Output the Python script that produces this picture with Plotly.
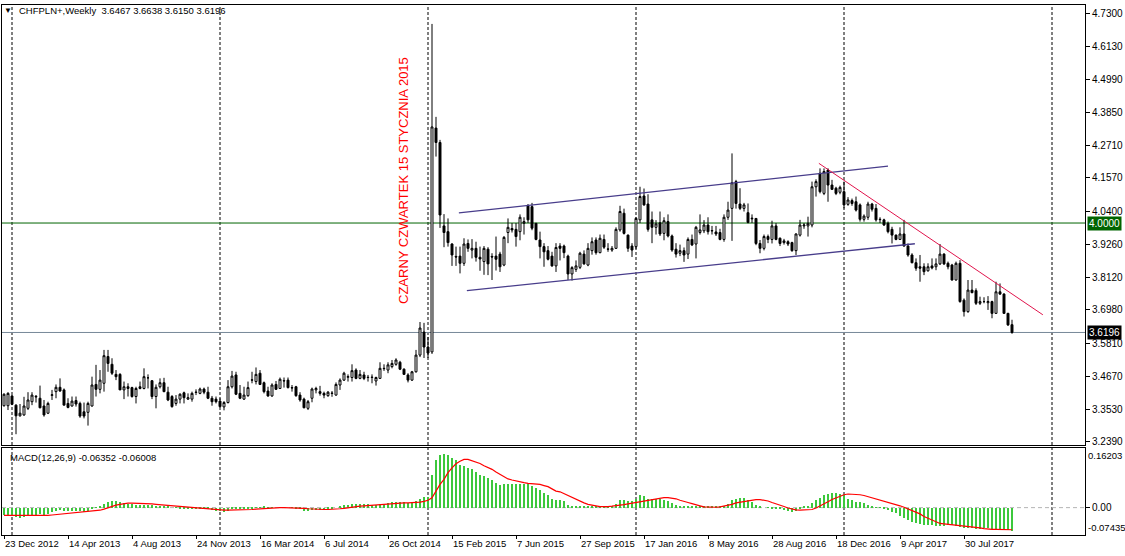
import pandas as pd
import plotly.graph_objects as go

# ---------------- data ----------------
first_week = "2012-12-23"
n_weeks = 253
weeks = pd.date_range(first_week, periods=n_weeks, freq="7D")

opens = [
    3.365, 3.365, 3.399, 3.367, 3.330, 3.333, 3.356, 3.379, 3.398, 3.391,
    3.364, 3.339, 3.401, 3.414, 3.429, 3.420, 3.373, 3.364, 3.383, 3.373,
    3.344, 3.342, 3.364, 3.439, 3.422, 3.443, 3.536, 3.509, 3.474, 3.474,
    3.420, 3.431, 3.428, 3.397, 3.431, 3.425, 3.462, 3.452, 3.397, 3.431,
    3.445, 3.412, 3.397, 3.373, 3.388, 3.410, 3.388, 3.388, 3.411, 3.408,
    3.423, 3.412, 3.391, 3.388, 3.381, 3.361, 3.376, 3.431, 3.472, 3.408,
    3.388, 3.400, 3.455, 3.449, 3.478, 3.445, 3.416, 3.399, 3.439, 3.425,
    3.451, 3.454, 3.428, 3.431, 3.402, 3.388, 3.356, 3.391, 3.420, 3.414,
    3.408, 3.400, 3.409, 3.402, 3.437, 3.454, 3.464, 3.463, 3.489, 3.460,
    3.472, 3.464, 3.463, 3.451, 3.460, 3.495, 3.489, 3.501, 3.509, 3.516,
    3.492, 3.472, 3.454, 3.483, 3.541, 3.621, 3.569, 3.552, 4.330, 4.280,
    3.990, 3.970, 3.927, 3.884, 3.885, 3.860, 3.929, 3.906, 3.912, 3.881,
    3.866, 3.909, 3.884, 3.885, 3.892, 3.854, 3.967, 3.981, 3.978, 3.970,
    3.999, 4.059, 4.057, 3.999, 3.941, 3.918, 3.904, 3.885, 3.851, 3.920,
    3.920, 3.885, 3.823, 3.839, 3.846, 3.892, 3.854, 3.904, 3.941, 3.897,
    3.943, 3.910, 3.906, 3.912, 3.976, 4.034, 3.958, 3.920, 3.918, 4.011,
    4.094, 4.066, 4.011, 3.985, 4.001, 3.964, 4.005, 3.955, 3.909, 3.895,
    3.904, 3.892, 3.943, 3.927, 3.967, 3.973, 3.993, 3.974, 3.969, 3.967,
    3.943, 4.020, 4.051, 4.144, 4.066, 4.051, 4.036, 4.017, 4.016, 3.929,
    3.912, 3.953, 3.943, 3.990, 3.947, 3.932, 3.935, 3.932, 3.904, 3.958,
    3.990, 3.990, 3.993, 4.126, 4.173, 4.103, 4.184, 4.132, 4.121, 4.107,
    4.109, 4.065, 4.078, 4.074, 4.063, 4.013, 4.020, 4.066, 4.051, 4.013,
    4.011, 3.999, 3.978, 3.958, 3.943, 3.962, 3.920, 3.889, 3.862, 3.848,
    3.848, 3.834, 3.851, 3.848, 3.858, 3.892, 3.860, 3.854, 3.802, 3.860,
    3.732, 3.692, 3.767, 3.765, 3.721, 3.727, 3.723, 3.727, 3.686, 3.761,
    3.753, 3.686, 3.6467,
]
highs = [
    3.408, 3.412, 3.402, 3.370, 3.371, 3.396, 3.412, 3.412, 3.402, 3.435,
    3.385, 3.379, 3.420, 3.439, 3.460, 3.425, 3.391, 3.397, 3.397, 3.379,
    3.376, 3.379, 3.466, 3.507, 3.489, 3.559, 3.559, 3.530, 3.489, 3.478,
    3.449, 3.443, 3.431, 3.431, 3.449, 3.495, 3.474, 3.454, 3.439, 3.460,
    3.462, 3.431, 3.402, 3.402, 3.408, 3.414, 3.408, 3.414, 3.422, 3.428,
    3.428, 3.431, 3.399, 3.397, 3.391, 3.381, 3.454, 3.486, 3.483, 3.437,
    3.431, 3.449, 3.483, 3.498, 3.489, 3.449, 3.431, 3.443, 3.451, 3.463,
    3.463, 3.463, 3.437, 3.434, 3.412, 3.393, 3.385, 3.428, 3.431, 3.434,
    3.414, 3.416, 3.416, 3.446, 3.460, 3.483, 3.474, 3.509, 3.495, 3.489,
    3.483, 3.472, 3.474, 3.466, 3.516, 3.509, 3.516, 3.524, 3.530, 3.521,
    3.495, 3.478, 3.486, 3.559, 3.656, 3.653, 3.604, 4.692, 4.369, 4.289,
    4.031, 4.016, 3.930, 3.918, 3.918, 3.947, 3.943, 3.944, 3.935, 3.918,
    3.920, 3.916, 3.895, 3.953, 3.900, 3.955, 4.016, 4.000, 4.000, 4.030,
    4.020, 4.066, 4.070, 4.000, 3.970, 3.930, 3.920, 3.900, 3.930, 3.930,
    3.925, 3.890, 3.850, 3.870, 3.900, 3.905, 3.930, 3.950, 3.950, 3.960,
    3.960, 3.930, 3.920, 3.985, 4.060, 4.050, 3.960, 3.930, 4.020, 4.126,
    4.120, 4.100, 4.040, 4.010, 4.040, 4.020, 4.030, 3.960, 3.930, 3.925,
    3.915, 3.950, 3.960, 3.990, 4.030, 4.010, 4.020, 3.990, 3.990, 3.980,
    4.030, 4.074, 4.242, 4.150, 4.121, 4.070, 4.068, 4.030, 4.017, 3.941,
    3.960, 3.960, 4.008, 4.000, 3.950, 3.945, 3.940, 3.935, 3.964, 4.011,
    4.000, 4.022, 4.144, 4.152, 4.190, 4.190, 4.190, 4.150, 4.126, 4.130,
    4.144, 4.090, 4.085, 4.092, 4.068, 4.030, 4.074, 4.070, 4.066, 4.020,
    4.015, 4.005, 3.987, 3.960, 3.985, 4.011, 3.929, 3.895, 3.877, 3.889,
    3.860, 3.860, 3.877, 3.877, 3.927, 3.895, 3.866, 3.858, 3.866, 3.871,
    3.738, 3.802, 3.802, 3.773, 3.744, 3.742, 3.746, 3.730, 3.796, 3.790,
    3.756, 3.688, 3.6638,
]
lows = [
    3.362, 3.350, 3.367, 3.266, 3.327, 3.330, 3.350, 3.367, 3.376, 3.356,
    3.327, 3.336, 3.385, 3.391, 3.414, 3.367, 3.356, 3.362, 3.362, 3.323,
    3.321, 3.296, 3.362, 3.397, 3.408, 3.414, 3.483, 3.472, 3.454, 3.420,
    3.388, 3.397, 3.393, 3.373, 3.422, 3.422, 3.425, 3.388, 3.356, 3.425,
    3.412, 3.381, 3.358, 3.365, 3.373, 3.373, 3.385, 3.379, 3.402, 3.405,
    3.405, 3.388, 3.365, 3.373, 3.359, 3.349, 3.373, 3.425, 3.402, 3.388,
    3.385, 3.396, 3.443, 3.439, 3.437, 3.408, 3.396, 3.396, 3.420, 3.423,
    3.428, 3.425, 3.414, 3.396, 3.379, 3.356, 3.350, 3.377, 3.408, 3.400,
    3.391, 3.396, 3.396, 3.400, 3.420, 3.451, 3.449, 3.449, 3.457, 3.457,
    3.454, 3.449, 3.443, 3.435, 3.458, 3.486, 3.478, 3.495, 3.504, 3.489,
    3.472, 3.446, 3.451, 3.480, 3.534, 3.531, 3.531, 3.545, 4.231, 3.983,
    3.916, 3.918, 3.851, 3.851, 3.825, 3.851, 3.900, 3.877, 3.866, 3.834,
    3.820, 3.819, 3.802, 3.835, 3.830, 3.850, 3.930, 3.967, 3.918, 3.940,
    3.960, 4.000, 3.975, 3.940, 3.877, 3.848, 3.870, 3.848, 3.830, 3.870,
    3.878, 3.802, 3.800, 3.830, 3.840, 3.855, 3.850, 3.890, 3.890, 3.895,
    3.910, 3.900, 3.900, 3.910, 3.970, 3.960, 3.900, 3.882, 3.910, 4.000,
    4.060, 3.970, 3.930, 3.960, 3.955, 3.940, 3.950, 3.900, 3.880, 3.885,
    3.865, 3.875, 3.920, 3.877, 3.960, 3.965, 3.960, 3.960, 3.955, 3.940,
    3.935, 4.011, 3.938, 4.050, 4.045, 4.040, 3.999, 4.000, 3.923, 3.895,
    3.905, 3.930, 3.929, 3.940, 3.920, 3.925, 3.920, 3.900, 3.889, 3.953,
    3.980, 3.953, 3.985, 4.092, 4.103, 4.097, 4.074, 4.115, 4.097, 4.100,
    4.051, 4.060, 4.060, 4.040, 4.005, 4.005, 4.011, 4.040, 4.005, 4.000,
    3.990, 3.964, 3.929, 3.940, 3.941, 3.918, 3.883, 3.860, 3.834, 3.796,
    3.819, 3.831, 3.839, 3.836, 3.854, 3.854, 3.839, 3.800, 3.800, 3.723,
    3.675, 3.688, 3.756, 3.715, 3.715, 3.721, 3.698, 3.669, 3.684, 3.750,
    3.684, 3.642, 3.6150,
]
closes = [
    3.405, 3.408, 3.370, 3.330, 3.339, 3.364, 3.385, 3.402, 3.396, 3.358,
    3.333, 3.373, 3.403, 3.429, 3.416, 3.367, 3.359, 3.381, 3.371, 3.329,
    3.329, 3.373, 3.437, 3.422, 3.454, 3.539, 3.512, 3.478, 3.466, 3.420,
    3.431, 3.425, 3.397, 3.425, 3.425, 3.466, 3.462, 3.397, 3.429, 3.445,
    3.414, 3.385, 3.362, 3.388, 3.405, 3.393, 3.393, 3.408, 3.412, 3.423,
    3.412, 3.391, 3.379, 3.379, 3.362, 3.376, 3.431, 3.468, 3.405, 3.391,
    3.402, 3.428, 3.454, 3.474, 3.439, 3.414, 3.399, 3.437, 3.422, 3.457,
    3.452, 3.428, 3.427, 3.400, 3.385, 3.358, 3.379, 3.423, 3.425, 3.408,
    3.402, 3.412, 3.408, 3.439, 3.454, 3.478, 3.466, 3.487, 3.460, 3.474,
    3.460, 3.463, 3.464, 3.463, 3.495, 3.494, 3.507, 3.512, 3.524, 3.492,
    3.474, 3.454, 3.483, 3.541, 3.635, 3.569, 3.548, 4.334, 4.280, 4.028,
    3.967, 3.932, 3.889, 3.882, 3.860, 3.927, 3.912, 3.912, 3.881, 3.875,
    3.912, 3.858, 3.882, 3.874, 3.848, 3.950, 3.985, 3.976, 3.953, 4.020,
    4.005, 4.011, 3.982, 3.943, 3.918, 3.900, 3.874, 3.851, 3.915, 3.912,
    3.897, 3.823, 3.845, 3.851, 3.895, 3.858, 3.912, 3.935, 3.897, 3.947,
    3.916, 3.909, 3.912, 3.978, 4.040, 3.964, 3.912, 3.906, 4.016, 4.092,
    4.063, 3.978, 3.985, 3.997, 3.962, 4.008, 3.955, 3.906, 3.892, 3.904,
    3.889, 3.943, 3.924, 3.985, 3.976, 3.993, 3.970, 3.973, 3.962, 3.943,
    4.020, 4.045, 4.140, 4.068, 4.051, 4.063, 4.002, 4.015, 3.929, 3.912,
    3.953, 3.943, 3.990, 3.943, 3.929, 3.938, 3.927, 3.904, 3.962, 3.993,
    3.993, 3.999, 4.126, 4.144, 4.109, 4.179, 4.132, 4.117, 4.103, 4.124,
    4.063, 4.080, 4.068, 4.045, 4.013, 4.024, 4.066, 4.048, 4.011, 4.012,
    3.993, 3.970, 3.958, 3.943, 3.962, 3.920, 3.889, 3.862, 3.843, 3.843,
    3.831, 3.848, 3.844, 3.858, 3.892, 3.858, 3.848, 3.802, 3.860, 3.727,
    3.692, 3.767, 3.758, 3.721, 3.727, 3.727, 3.727, 3.686, 3.761, 3.753,
    3.686, 3.646, 3.6196,
]

macd_main = [
    -0.020, -0.021, -0.022, -0.025, -0.027, -0.026, -0.024, -0.021, -0.019, -0.018,
    -0.019, -0.017, -0.013, -0.010, -0.007, -0.008, -0.009, -0.008, -0.008, -0.010,
    -0.011, -0.009, -0.003, 0.001, 0.004, 0.010, 0.015, 0.018, 0.018, 0.016,
    0.013, 0.011, 0.009, 0.008, 0.007, 0.008, 0.008, 0.006, 0.005, 0.005,
    0.004, 0.002, 0.000, -0.001, -0.002, -0.003, -0.004, -0.004, -0.004, -0.004,
    -0.004, -0.005, -0.007, -0.008, -0.010, -0.011, -0.008, -0.004, -0.004, -0.005,
    -0.005, -0.004, -0.002, 0.001, 0.001, 0.003, 0.001, 0.001, 0.000, 0.001,
    0.001, 0.000, -0.001, -0.003, -0.005, -0.008, -0.009, -0.007, -0.006, -0.006,
    -0.006, -0.004, -0.003, 0.000, 0.003, 0.006, 0.007, 0.009, 0.009, 0.009,
    0.009, 0.009, 0.008, 0.008, 0.010, 0.011, 0.013, 0.014, 0.016, 0.016,
    0.015, 0.013, 0.013, 0.017, 0.023, 0.028, 0.030, 0.090, 0.129, 0.144,
    0.146, 0.142, 0.135, 0.129, 0.117, 0.113, 0.108, 0.104, 0.097, 0.090,
    0.086, 0.081, 0.074, 0.068, 0.061, 0.063, 0.063, 0.065, 0.065, 0.063,
    0.065, 0.063, 0.059, 0.054, 0.047, 0.041, 0.034, 0.023, 0.020, 0.020,
    0.018, 0.006, 0.004, 0.003, 0.003, 0.003, 0.004, 0.004, 0.004, 0.005,
    0.005, 0.004, 0.004, 0.009, 0.020, 0.020, 0.018, 0.018, 0.024, 0.034,
    0.031, 0.024, 0.024, 0.024, 0.024, 0.022, 0.018, 0.013, 0.006, 0.004,
    0.002, 0.003, 0.003, 0.004, 0.003, 0.003, 0.003, 0.003, 0.002, 0.002,
    0.004, 0.009, 0.020, 0.024, 0.027, 0.027, 0.022, 0.015, 0.006, 0.002,
    0.000, -0.001, -0.002, -0.003, -0.005, -0.007, -0.009, -0.012, -0.009, -0.003,
    0.002, 0.005, 0.013, 0.022, 0.027, 0.034, 0.038, 0.040, 0.040, 0.038,
    0.034, 0.024, 0.020, 0.016, 0.014, 0.012, 0.008, 0.004, 0.001, -0.001,
    -0.003, -0.006, -0.011, -0.015, -0.022, -0.029, -0.034, -0.038, -0.043, -0.044,
    -0.048, -0.048, -0.048, -0.050, -0.051, -0.049, -0.048, -0.048, -0.051, -0.053,
    -0.056, -0.055, -0.056, -0.057, -0.057, -0.056, -0.055, -0.057, -0.057, -0.058,
    -0.060, -0.062, -0.06352,
]
macd_signal = [
    -0.021, -0.021, -0.022, -0.022, -0.023, -0.023, -0.023, -0.023, -0.023, -0.022,
    -0.022, -0.021, -0.020, -0.019, -0.017, -0.016, -0.015, -0.014, -0.013, -0.013,
    -0.012, -0.012, -0.011, -0.009, -0.007, -0.004, 0.000, 0.004, 0.007, 0.009,
    0.011, 0.012, 0.012, 0.012, 0.011, 0.011, 0.010, 0.010, 0.009, 0.008,
    0.007, 0.006, 0.005, 0.004, 0.003, 0.002, 0.001, 0.000, -0.001, -0.002,
    -0.002, -0.003, -0.004, -0.005, -0.006, -0.007, -0.007, -0.007, -0.006, -0.006,
    -0.006, -0.005, -0.005, -0.004, -0.003, -0.002, -0.001, -0.001, 0.000, 0.000,
    0.000, 0.000, 0.000, -0.001, -0.001, -0.002, -0.003, -0.004, -0.005, -0.005,
    -0.005, -0.005, -0.005, -0.004, -0.003, -0.002, 0.000, 0.001, 0.003, 0.004,
    0.005, 0.006, 0.006, 0.007, 0.007, 0.008, 0.009, 0.010, 0.011, 0.012,
    0.013, 0.013, 0.013, 0.014, 0.015, 0.017, 0.020, 0.027, 0.045, 0.063,
    0.077, 0.095, 0.108, 0.119, 0.126, 0.131, 0.131, 0.128, 0.124, 0.120,
    0.114, 0.110, 0.104, 0.097, 0.090, 0.084, 0.078, 0.075, 0.072, 0.069,
    0.068, 0.066, 0.065, 0.065, 0.063, 0.060, 0.057, 0.051, 0.045, 0.043,
    0.038, 0.033, 0.027, 0.022, 0.016, 0.013, 0.009, 0.006, 0.005, 0.003,
    0.002, 0.003, 0.004, 0.005, 0.006, 0.008, 0.010, 0.012, 0.014, 0.015,
    0.017, 0.020, 0.023, 0.024, 0.026, 0.027, 0.027, 0.026, 0.024, 0.020,
    0.016, 0.014, 0.011, 0.007, 0.005, 0.002, 0.001, 0.000, 0.001, 0.002,
    0.004, 0.006, 0.009, 0.013, 0.015, 0.018, 0.020, 0.022, 0.022, 0.022,
    0.021, 0.018, 0.014, 0.011, 0.006, 0.003, -0.001, -0.004, -0.006, -0.007,
    -0.007, -0.007, -0.005, -0.001, 0.004, 0.009, 0.016, 0.022, 0.027, 0.032,
    0.035, 0.037, 0.037, 0.036, 0.035, 0.033, 0.030, 0.027, 0.024, 0.021,
    0.018, 0.014, 0.011, 0.007, 0.005, 0.001, -0.003, -0.007, -0.012, -0.017,
    -0.024, -0.029, -0.034, -0.039, -0.043, -0.044, -0.045, -0.046, -0.047, -0.048,
    -0.049, -0.050, -0.052, -0.053, -0.055, -0.057, -0.059, -0.059, -0.059, -0.059,
    -0.059, -0.060, -0.06008,
]

price_ticks = [4.7300, 4.6130, 4.4990, 4.3850, 4.2710, 4.1570, 4.0400,
               3.9260, 3.8120, 3.6980, 3.5810, 3.4670, 3.3530, 3.2390]
date_labels = ["23 Dec 2012", "14 Apr 2013", "4 Aug 2013", "24 Nov 2013",
               "16 Mar 2014", "6 Jul 2014", "26 Oct 2014", "15 Feb 2015",
               "7 Jun 2015", "27 Sep 2015", "17 Jan 2016", "8 May 2016",
               "28 Aug 2016", "18 Dec 2016", "9 Apr 2017", "30 Jul 2017"]
year_grid = ["2013-01-06", "2014-01-05", "2015-01-04", "2016-01-03",
             "2017-01-01", "2017-12-31"]

channel_upper_x = ["2015-02-27", "2017-03-19"]
channel_upper_y = [4.035, 4.198]
channel_lower_x = ["2015-03-13", "2017-05-05"]
channel_lower_y = [3.765, 3.928]
resistance_x = ["2016-11-18", "2017-12-15"]
resistance_y = [4.2075, 3.681]
level_price = 4.0000
macd_max, macd_min = 0.16203, -0.07435

symbol_title = "CHFPLN+,Weekly"
event_text = "CZARNY CZWARTEK 15 STYCZNIA 2015"

# ---------------- layout geometry ----------------
W, H = 1125, 556
ML, MR, MT, MB = 2, 40, 5, 21
PW, PH = W - ML - MR, H - MT - MB


def px_x(px):
    return (px - ML) / PW


def px_y(py):
    return (H - MB - py) / PH


FONT = "Liberation Sans, Arial, sans-serif"
last_close = closes[-1]
start = pd.Timestamp(first_week)
x_range = [start - pd.Timedelta(days=3.5), start + pd.Timedelta(weeks=270.25)]

fig = go.Figure()

fig.add_trace(go.Candlestick(
    x=weeks, open=opens, high=highs, low=lows, close=closes,
    xaxis="x", yaxis="y", whiskerwidth=0,
    increasing=dict(line=dict(color="black", width=1), fillcolor="white"),
    decreasing=dict(line=dict(color="black", width=1), fillcolor="black"),
    hoverinfo="skip", showlegend=False))

for xs, ys, col, w in [(channel_upper_x, channel_upper_y, "#483D8B", 1.3),
                       (channel_lower_x, channel_lower_y, "#483D8B", 1.3),
                       (resistance_x, resistance_y, "#E0144C", 1.0)]:
    fig.add_trace(go.Scatter(x=xs, y=ys, mode="lines", xaxis="x", yaxis="y",
                             line=dict(color=col, width=w),
                             hoverinfo="skip", showlegend=False))

fig.add_trace(go.Bar(x=weeks, y=macd_main, xaxis="x2", yaxis="y2",
                     width=0.18 * 7 * 86400000,
                     marker=dict(color="#3CC83C", line=dict(width=0)),
                     hoverinfo="skip", showlegend=False))
fig.add_trace(go.Scatter(x=weeks, y=macd_signal, mode="lines", xaxis="x2", yaxis="y2",
                         line=dict(color="#FF0000", width=1.2),
                         hoverinfo="skip", showlegend=False))

shapes = []
for d in year_grid:
    shapes.append(dict(type="line", xref="x", yref="paper", x0=d, x1=d, y0=0, y1=1,
                       line=dict(color="black", width=1, dash="3px,2px"), layer="below"))
shapes.append(dict(type="line", xref="paper", yref="y", x0=0, x1=1,
                   y0=level_price, y1=level_price,
                   line=dict(color="#006400", width=1), layer="below"))
shapes.append(dict(type="line", xref="paper", yref="y", x0=0, x1=1,
                   y0=last_close, y1=last_close,
                   line=dict(color="#778899", width=1), layer="below"))
shapes.append(dict(type="line", xref="paper", yref="y2", x0=0, x1=1, y0=0, y1=0,
                   line=dict(color="#B4B4B4", width=1, dash="4px,3px"), layer="below"))

ohlc_text = " ".join(f"{v:.4f}" for v in (opens[-1], highs[-1], lows[-1], closes[-1]))
macd_text = f"MACD(12,26,9) {macd_main[-1]:.5f} {macd_signal[-1]:.5f}"

annotations = [
    dict(text="▼", xref="paper", yref="paper", x=px_x(8), y=px_y(11),
         xanchor="center", yanchor="middle", showarrow=False,
         font=dict(size=8, color="black", family=FONT)),
    dict(text=f"{symbol_title}  {ohlc_text}", xref="paper", yref="paper",
         x=px_x(17), y=px_y(11), xanchor="left", yanchor="middle", showarrow=False,
         font=dict(size=9.5, color="black", family=FONT)),
    dict(text=macd_text, xref="paper", yref="paper", x=px_x(8), y=px_y(457),
         xanchor="left", yanchor="middle", showarrow=False,
         font=dict(size=9.5, color="black", family=FONT)),
    dict(text=event_text, xref="paper", yref="paper", x=px_x(403), y=px_y(181),
         xanchor="center", yanchor="middle", textangle=-90, showarrow=False,
         font=dict(size=13, color="#FF0000", family=FONT)),
    dict(text=f"{level_price:.4f}", xref="paper", yref="y", x=px_x(1087), y=level_price,
         xanchor="left", yanchor="middle", showarrow=False, bgcolor="#006400",
         borderpad=1, font=dict(size=10, color="white", family=FONT)),
    dict(text=f"{last_close:.4f}", xref="paper", yref="y", x=px_x(1087), y=last_close,
         xanchor="left", yanchor="middle", showarrow=False, bgcolor="black",
         borderpad=1, font=dict(size=10, color="white", family=FONT)),
    dict(text=f"{macd_max:.5f}", xref="paper", yref="y2 domain", x=px_x(1086), y=1,
         xanchor="left", yanchor="top", showarrow=False,
         font=dict(size=9.5, color="black", family=FONT)),
    dict(text=f"{macd_min:.5f}", xref="paper", yref="y2 domain", x=px_x(1086), y=0,
         xanchor="left", yanchor="bottom", showarrow=False,
         font=dict(size=9.5, color="black", family=FONT)),
]

tick_dates = [pd.to_datetime(s, format="%d %b %Y").strftime("%Y-%m-%d") for s in date_labels]
axis_font = dict(size=10, color="black", family=FONT)
main_bottom = px_y(445)
macd_top = px_y(448)

fig.update_layout(
    width=W, height=H, template="none",
    margin=dict(l=ML, r=MR, t=MT, b=MB, autoexpand=False),
    paper_bgcolor="white", plot_bgcolor="white",
    showlegend=False, bargap=0,
    xaxis=dict(domain=[0, 1], anchor="y", type="date", range=x_range, automargin=False,
               showticklabels=False, ticks="", showgrid=False, zeroline=False,
               showline=True, mirror=True, linecolor="black", linewidth=1,
               rangeslider=dict(visible=False)),
    yaxis=dict(domain=[main_bottom, 1], anchor="x", side="right", automargin=False,
               range=[3.2285, 4.7578], tickvals=price_ticks,
               ticktext=[f"{v:.4f}" for v in price_ticks],
               ticks="outside", ticklen=4, tickcolor="black", tickfont=axis_font,
               showgrid=False, zeroline=False, showline=True, mirror=True,
               linecolor="black", linewidth=1),
    xaxis2=dict(domain=[0, 1], anchor="y2", type="date", range=x_range, matches="x",
                automargin=False,
                tickvals=tick_dates, ticktext=date_labels,
                ticklabelposition="outside right", ticks="outside", ticklen=3,
                tickcolor="black", tickfont=dict(size=9.5, color="black", family=FONT),
                showgrid=False, zeroline=False, showline=True, mirror=True,
                linecolor="black", linewidth=1, rangeslider=dict(visible=False)),
    yaxis2=dict(domain=[0, macd_top], anchor="x2", side="right", automargin=False,
                range=[macd_min, macd_max], tickvals=[0], ticktext=["0.00"],
                ticks="outside", ticklen=4, tickcolor="black", tickfont=axis_font,
                showgrid=False, zeroline=False, showline=True, mirror=True,
                linecolor="black", linewidth=1),
    shapes=shapes, annotations=annotations,
)

fig.write_html("out.html", config={"displayModeBar": False},
               post_script="document.body.style.margin='0px';")
